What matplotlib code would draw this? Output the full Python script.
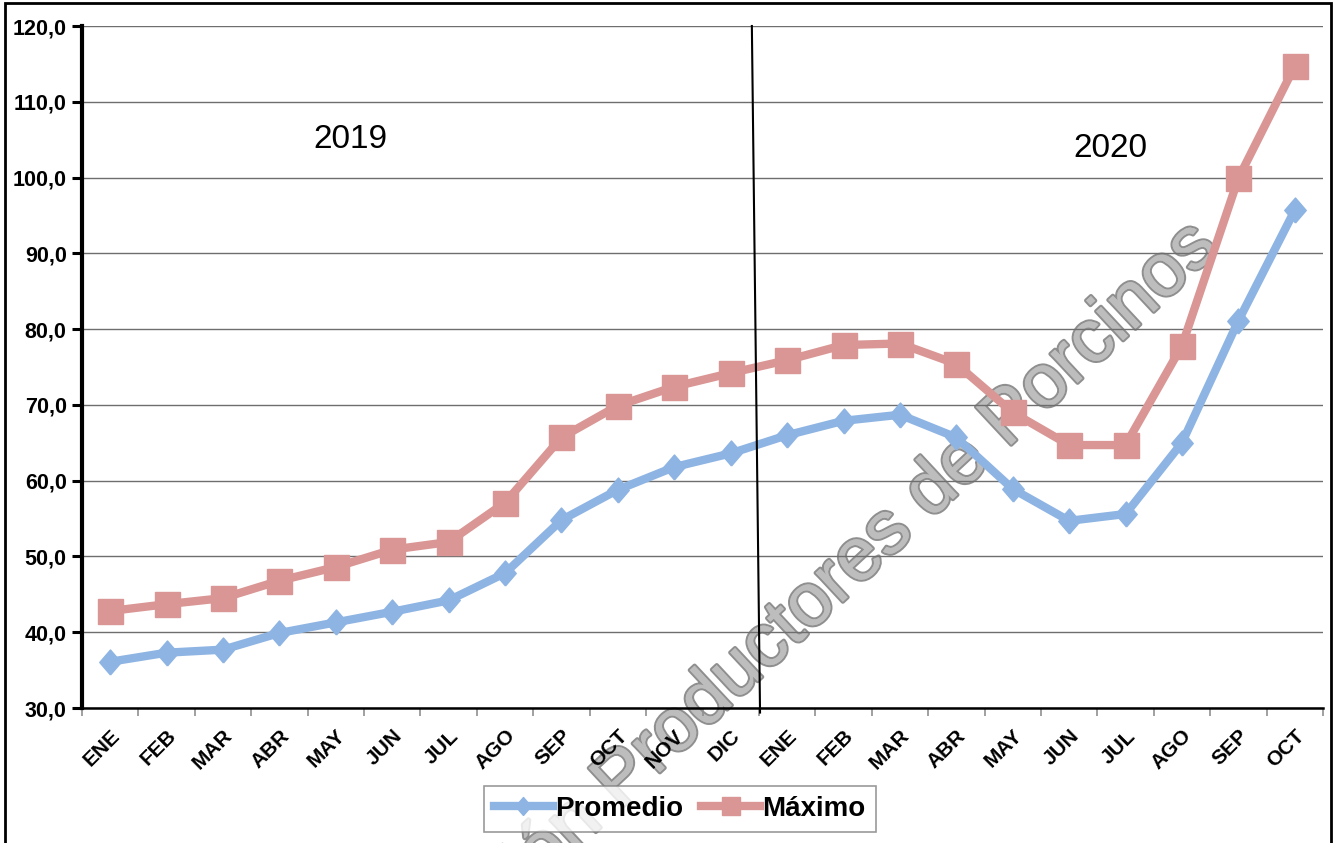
import matplotlib
matplotlib.use("Agg")
import matplotlib.pyplot as plt
from matplotlib.lines import Line2D
from matplotlib.patches import Rectangle
from matplotlib.ticker import FuncFormatter, FixedLocator
from matplotlib.transforms import ScaledTranslation
import matplotlib.patheffects as pe

plt.rcParams['font.family'] = ['Liberation Sans', 'DejaVu Sans']

months = ["ENE", "FEB", "MAR", "ABR", "MAY", "JUN", "JUL", "AGO", "SEP", "OCT", "NOV", "DIC",
          "ENE", "FEB", "MAR", "ABR", "MAY", "JUN", "JUL", "AGO", "SEP", "OCT"]
promedio = [36.1, 37.3, 37.7, 39.9, 41.3, 42.7, 44.2, 47.8, 54.8, 58.8, 61.8, 63.6,
            66.0, 67.9, 68.7, 65.7, 58.9, 54.7, 55.6, 65.0, 81.1, 95.7]
maximo = [42.8, 43.7, 44.5, 46.8, 48.6, 50.9, 51.9, 57.1, 65.7, 69.9, 72.4, 74.2,
          75.9, 77.9, 78.1, 75.4, 69.0, 64.7, 64.7, 77.8, 99.9, 114.7]
years = ["2019", "2020"]
yticks = [30, 40, 50, 60, 70, 80, 90, 100, 110, 120]

blue = "#8EB4E3"
pink = "#D99694"
diamond = [(0, -1), (0.86, 0), (0, 1), (-0.86, 0), (0, -1)]

fig = plt.figure(figsize=(13.36, 8.43), dpi=100)
ax = fig.add_axes([82/1336, 1 - 708/843, (1323-82)/1336, (708-26)/843])
ax.patch.set_alpha(0)

x = list(range(len(months)))
ax.plot(x, promedio, color=blue, lw=6, marker=diamond, markersize=18, zorder=3,
        solid_joinstyle="round")
ax.plot(x, maximo, color=pink, lw=6, marker="s", markersize=18, zorder=3,
        solid_joinstyle="round")

ax.set_xlim(-0.5, len(months) - 0.5)
ax.set_ylim(30, 120)
ax.set_yticks(yticks)
ax.yaxis.set_major_formatter(FuncFormatter(lambda v, p: f"{v:.1f}".replace(".", ",")))
ax.grid(axis="y", color="#6e6e6e", lw=1.0)
ax.set_axisbelow(True)

ax.set_xticks(x)
ax.set_xticklabels(months, rotation=45, ha="right", va="top", rotation_mode="anchor",
                   fontweight="bold", fontsize=15)
shift = ScaledTranslation(-4/100, 2/100, fig.dpi_scale_trans)
for lab in ax.get_xticklabels():
    lab.set_transform(lab.get_transform() + shift)
ax.xaxis.set_minor_locator(FixedLocator([i - 0.5 for i in range(len(months) + 1)]))
ax.tick_params(axis="x", which="major", length=0, pad=13)
ax.tick_params(axis="x", which="minor", length=6, color="#909090", width=1.2)
ax.tick_params(axis="y", which="major", length=7, width=2.2, color="black", pad=4,
               labelsize=15.5)
for lab in ax.get_yticklabels():
    lab.set_fontweight("bold")

for s in ["top", "right"]:
    ax.spines[s].set_visible(False)
ax.spines["left"].set_linewidth(3)
ax.spines["bottom"].set_linewidth(1.8)

# divider between years
ax.plot([11.375, 11.52], [120, 29.4], color="black", lw=1.5, clip_on=False, zorder=4)

ax.text(4.25, 105.0, years[0], fontsize=24, ha="center", va="center")
ax.text(17.73, 103.9, years[1], fontsize=24, ha="center", va="center")

# watermark (behind the data)
fig.text(1220/1336, 1 - 250/843, "Asociación Productores de Porcinos", fontsize=54,
         rotation=43, color="#bdbdbd", ha="right", va="baseline", rotation_mode="anchor",
         zorder=-1, path_effects=[pe.withStroke(linewidth=3, foreground="#8f8f8f"),
                                  pe.Normal()])

handles = [Line2D([], [], color=blue, lw=6, marker=diamond, markersize=13),
           Line2D([], [], color=pink, lw=6, marker="s", markersize=13)]
leg = fig.legend(handles, ["Promedio", "Máximo"], loc="center",
                 bbox_to_anchor=(680/1336, 1 - 809/843),
                 ncol=2, fancybox=False, frameon=True, edgecolor="#808080",
                 prop={"weight": "bold", "size": 20}, handlelength=2.1, handletextpad=0.1,
                 columnspacing=0.65, borderpad=0.35)
leg.get_frame().set_linewidth(1.2)

fig.patches.append(Rectangle((5/1336, -0.02), (1331-5)/1336, 1.02 - 3/843,
                             transform=fig.transFigure, fill=False, edgecolor="black", lw=2))

fig.savefig("out.png", dpi=100)
